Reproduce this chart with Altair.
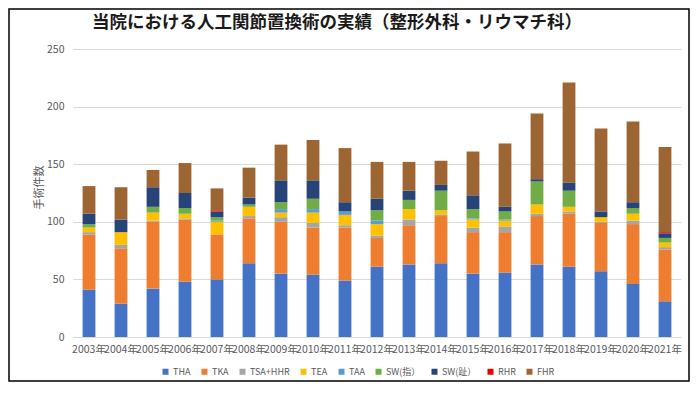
import altair as alt
import pandas as pd

years = ["2003年", "2004年", "2005年", "2006年", "2007年", "2008年", "2009年", "2010年",
         "2011年", "2012年", "2013年", "2014年", "2015年", "2016年", "2017年", "2018年",
         "2019年", "2020年", "2021年"]

series_names = ["THA", "TKA", "TSA+HHR", "TEA", "TAA", "SW(指）", "SW(趾）", "RHR", "FHR"]
series_colors = ["#4472C4", "#ED7D31", "#A5A5A5", "#FFC000", "#5B9BD5", "#70AD47",
                 "#264478", "#E60000", "#9C6532"]

THA = [41, 29, 42, 48, 50, 64, 55, 54, 49, 61, 63, 64, 55, 56, 63, 61, 57, 46, 31]
TKA = [48, 48, 58, 54, 39, 39, 45, 41, 46, 25, 34, 41, 36, 35, 42, 46, 42, 52, 45]
TSA_HHR = [2, 3, 1, 1, 0, 2, 4, 4, 2, 2, 5, 1, 4, 5, 2, 2, 1, 3, 2]
TEA = [4, 11, 7, 4, 11, 8, 4, 9, 9, 10, 9, 4, 7, 5, 8, 4, 4, 6, 4]
TAA = [0, 0, 0, 0, 1, 0, 3, 3, 3, 3, 0, 0, 1, 1, 0, 0, 0, 0, 0]
SW_finger = [3, 0, 5, 5, 3, 2, 6, 9, 0, 9, 8, 17, 8, 7, 20, 14, 0, 5, 4]
SW_toe = [9, 11, 17, 13, 5, 6, 19, 16, 8, 10, 8, 5, 12, 4, 2, 7, 5, 5, 4]
RHR = [0, 0, 0, 0, 1, 0, 0, 0, 0, 0, 0, 0, 0, 0, 0, 0, 0, 0, 1]
FHR = [24, 28, 15, 26, 19, 26, 31, 35, 47, 32, 25, 21, 38, 55, 57, 87, 72, 70, 74]

y_ticks = [0, 50, 100, 150, 200, 250]
title_text = "当院における人工関節置換術の実績（整形外科・リウマチ科）"

all_series = [THA, TKA, TSA_HHR, TEA, TAA, SW_finger, SW_toe, RHR, FHR]
rows = []
for si, (name, vals) in enumerate(zip(series_names, all_series)):
    for yr, v in zip(years, vals):
        rows.append({"year": yr, "series": name, "value": v, "idx": si})
df = pd.DataFrame(rows)

FONT = "Noto Sans CJK JP"
GRAY = "#595959"

bars = alt.Chart(df).mark_bar().encode(
    x=alt.X("year:N", sort=years,
            scale=alt.Scale(paddingInner=0.6, paddingOuter=0.3),
            axis=alt.Axis(title=None, labelAngle=0, labelOverlap=False, ticks=False,
                          domain=False, labelPadding=7, labelFontSize=10.5,
                          labelColor=GRAY, labelFont=FONT)),
    y=alt.Y("value:Q", stack="zero",
            scale=alt.Scale(domain=[0, 250], nice=False),
            axis=alt.Axis(values=y_ticks, title="手術件数", ticks=False, domain=False,
                          labelPadding=9, labelFontSize=10.5, labelColor=GRAY,
                          labelFont=FONT, titleFont=FONT, titleFontSize=11,
                          titleFontWeight="normal", titleColor=GRAY,
                          titleX=-29, titleY=138, gridColor="#D9D9D9")),
    color=alt.Color("series:N", sort=series_names,
                    scale=alt.Scale(domain=series_names, range=series_colors),
                    legend=alt.Legend(title=None, orient="none", direction="horizontal",
                                      columns=9, legendX=88, legendY=318,
                                      symbolType="square", symbolSize=36,
                                      symbolStrokeWidth=0, columnPadding=9,
                                      labelFontSize=9, labelColor=GRAY,
                                      labelFont=FONT, labelOffset=3)),
    order=alt.Order("idx:Q", sort="ascending"),
)

one = pd.DataFrame({"a": [0]})

border = alt.Chart(one).mark_rect(
    fill="transparent", stroke="#000000", strokeWidth=1.5
).encode(
    x=alt.value(-64), x2=alt.value(616), y=alt.value(-40), y2=alt.value(332)
)

title = alt.Chart(one).mark_text(
    text=title_text, font=FONT, fontSize=17.5, fontWeight="bold", color="#1a1a1a",
    align="center", baseline="middle"
).encode(x=alt.value(264), y=alt.value(-26))

chart = alt.layer(bars, border, title).properties(
    width=608, height=288,
    autosize=alt.AutoSizeParams(type="none"),
    padding={"left": 65, "top": 41, "right": 10, "bottom": 46},
).configure_view(stroke=None)

chart.save("out.html", embed_options={"renderer": "svg", "actions": False})
